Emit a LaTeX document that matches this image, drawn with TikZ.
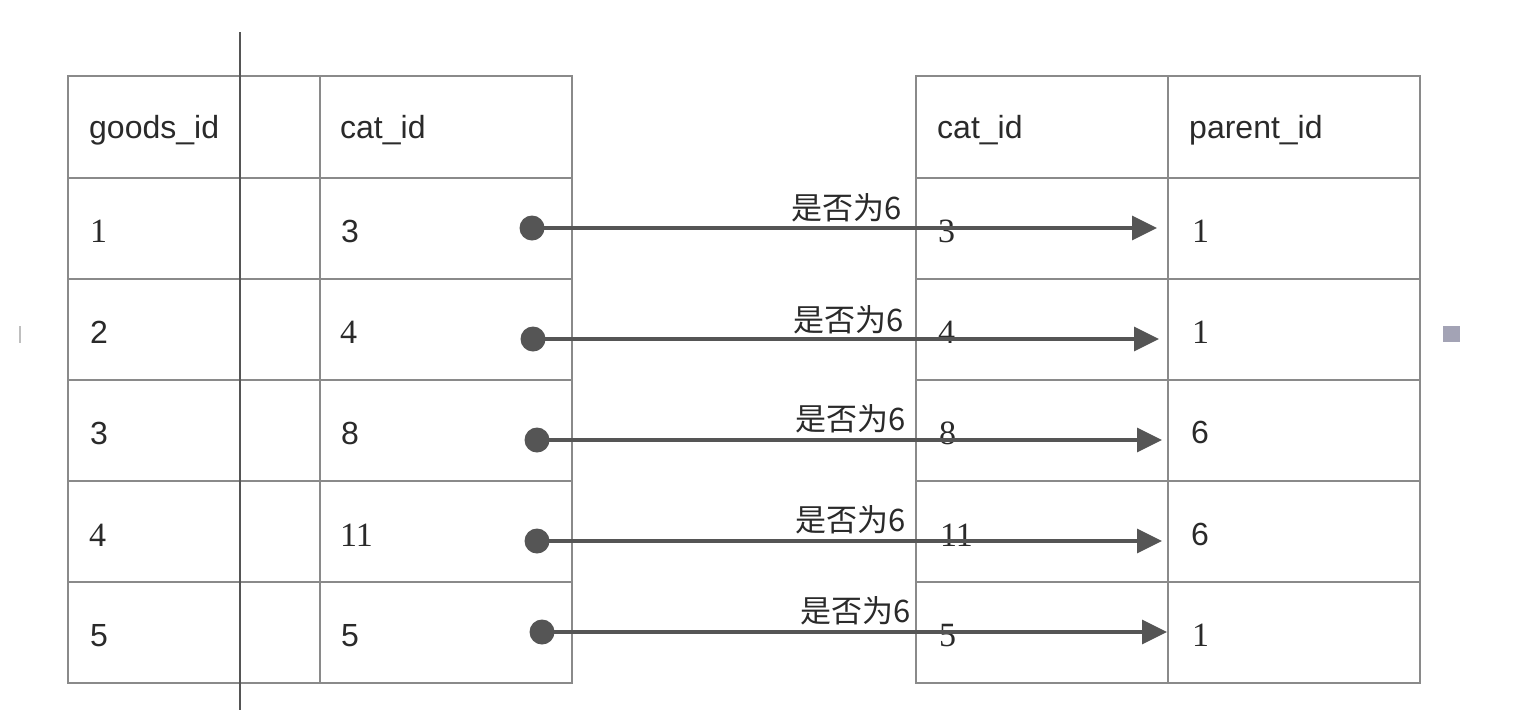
\documentclass[tikz,border=0pt]{standalone}
\usepackage{fontspec}
\setmainfont{Liberation Sans}
\newfontfamily\serifdig{Liberation Serif}
\newfontfamily\cjk{Noto Sans CJK SC}
\usetikzlibrary{arrows.meta}
\definecolor{gridgray}{HTML}{8A8A8A}
\definecolor{darkline}{HTML}{555555}
\definecolor{txt}{HTML}{2A2A2A}
\definecolor{sq}{HTML}{A3A3B5}
\begin{document}
\begin{tikzpicture}[x=1pt,y=-1pt,
  grid/.style={draw=gridgray,line width=2.3pt},
  cell/.style={anchor=base west,inner sep=0pt,text=txt,font=\fontsize{32}{36}\selectfont},
  sdig/.style={anchor=base west,inner sep=0pt,text=txt,font=\fontsize{34}{36}\serifdig},
  lbl/.style={anchor=base east,inner sep=0pt,text=txt,font=\fontsize{31}{34}\cjk},
  dotnode/.style={circle,fill=darkline,inner sep=0pt,minimum size=25pt},
  conn/.style={draw=darkline,line width=3.2pt,-{Triangle[length=25pt,width=24pt]}}]
\useasboundingbox (0,0) rectangle (1538,710);
\fill[white] (0,0) rectangle (1538,710);
% left table
\draw[grid] (68,76) rectangle (572,683);
\draw[grid] (320,76) -- (320,683);
\foreach \y in {178,279,380,481,582} \draw[grid] (68,\y) -- (572,\y);
% right table
\draw[grid] (916,76) rectangle (1420,683);
\draw[grid] (1168,76) -- (1168,683);
\foreach \y in {178,279,380,481,582} \draw[grid] (916,\y) -- (1420,\y);
% vertical line
\draw[draw=darkline,line width=2.8pt] (240,32) -- (240,710);
% small marks
\fill[sq] (1443,326) rectangle (1460,342);
\draw[draw=gray!50,line width=1.6pt] (20,326) -- (20,343);
% left table texts
\node[cell] (h1) at (89,138) {goods\_id};
\node[cell] (h2) at (340,138) {cat\_id};
\node[sdig] (a1) at (90,242) {1};
\node[cell] (a2) at (90,343) {2};
\node[cell] (a3) at (90,444) {3};
\node[sdig] (a4) at (89,546) {4};
\node[cell] (a5) at (90,646) {5};
\node[cell] (b1) at (341,242) {3};
\node[sdig] (b2) at (340,343) {4};
\node[cell] (b3) at (341,444) {8};
\node[sdig] (b4) at (340,546) {11};
\node[cell] (b5) at (341,646) {5};
% right table texts
\node[cell] (h3) at (937,138) {cat\_id};
\node[cell] (h4) at (1189,138) {parent\_id};
\node[sdig] (c1) at (938,242) {3};
\node[sdig] (c2) at (938,343) {4};
\node[sdig] (c3) at (939,444) {8};
\node[sdig] (c4) at (940,546) {11};
\node[sdig] (c5) at (939,646) {5};
\node[sdig] (p1) at (1192,242) {1};
\node[sdig] (p2) at (1192,343) {1};
\node[cell] (p3) at (1191,443) {6};
\node[cell] (p4) at (1191,545) {6};
\node[sdig] (p5) at (1192,646) {1};
% dots and arrow ends
\node[dotnode] (d1) at (532,228) {};
\node[dotnode] (d2) at (533,339) {};
\node[dotnode] (d3) at (537,440) {};
\node[dotnode] (d4) at (537,541) {};
\node[dotnode] (d5) at (542,632) {};
\coordinate (e1) at (1157,228);
\coordinate (e2) at (1159,339);
\coordinate (e3) at (1162,440);
\coordinate (e4) at (1162,541);
\coordinate (e5) at (1167,632);
\foreach \i in {1,...,5} \draw[conn] (d\i.center) -- (e\i);
% labels
\node[lbl] (l1) at (902,219) {是否为6};
\node[lbl] (l2) at (904,331) {是否为6};
\node[lbl] (l3) at (906,430) {是否为6};
\node[lbl] (l4) at (906,531) {是否为6};
\node[lbl] (l5) at (911,622) {是否为6};
\end{tikzpicture}
\end{document}
